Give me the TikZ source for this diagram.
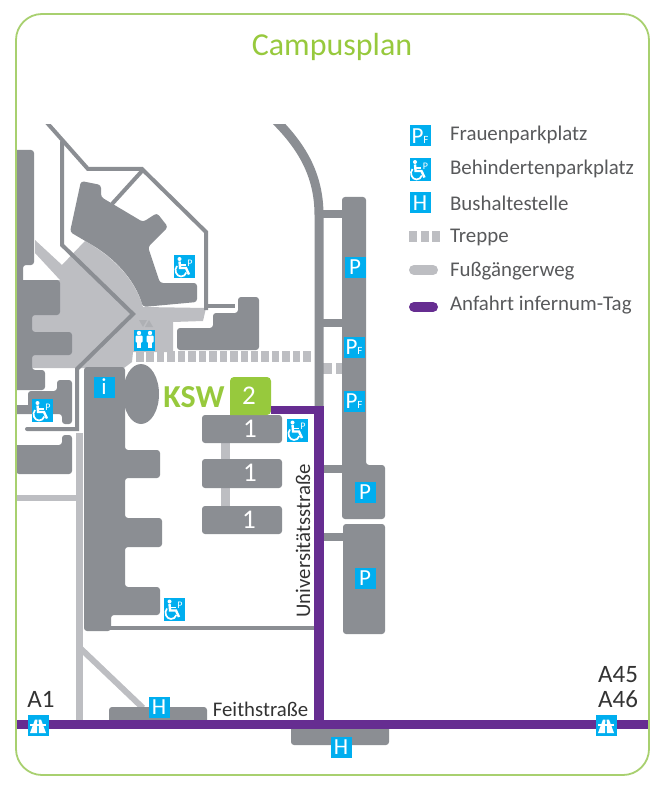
\documentclass[tikz,border=0pt]{standalone}
\usepackage{fontspec}
\setmainfont{Carlito}
\usetikzlibrary{positioning}
\definecolor{frameg}{HTML}{A8D06F}
\definecolor{kswg}{HTML}{97C93D}
\definecolor{bld}{HTML}{8B8E93}
\definecolor{walk}{HTML}{BDBEC2}
\definecolor{sign}{HTML}{00AEEF}
\definecolor{route}{HTML}{662D91}
\definecolor{lbl}{HTML}{58595B}
\newcommand{\fsz}[1]{\fontsize{#1}{#1}\selectfont}
\newcommand{\pf}{P\raisebox{0pt}{\fsz{11}F}}
\newcommand{\wch}{\hspace{11pt}\raisebox{6.5pt}{P}}
\tikzset{
  bldg/.style    = { fill=bld, rounded corners=3pt },
  road/.style    = { draw=bld, line width=#1 },
  path/.style    = { draw=walk, line width=#1 },
  drive/.style   = { draw=route, line width=#1 },
  stairs/.style  = { fill=walk },
  signb/.style   = { fill=sign, text=white, inner sep=0pt, minimum width=21pt,
    minimum height=21pt, font=\fsz{23} },
  wheel/.style   = { signb, minimum height=23pt, font=\fsz{10} },
  legend/.style  = { anchor=west, text=lbl, font=\fsz{20.9} },
  street/.style  = { text=black!80, font=\fsz{20.8} },
  num/.style     = { text=white, font=\fsz{27} },
  exit/.style    = { text=black!80, font=\fsz{25} },
  lane/.pic      = {
    \fill[white] (-8,7.5) -- (-3,-6) -- (-0.7,-6) -- (-1,7.5) -- cycle;
    \fill[white] (8,7.5) -- (3,-6) -- (0.7,-6) -- (1,7.5) -- cycle;
    \fill[white] (-8,-2) rectangle (8,0.5);
  },
  wcman/.pic     = {
    \fill[white] (0,-7) circle (2.2);
    \fill[white, rounded corners=1pt] (-3.5,-4.5) rectangle (3.5,2.5);
    \fill[white] (-2.3,2) rectangle (2.3,8);
  },
  chair/.pic     = {
    \fill[white] (-4,-8) circle (2);
    \draw[white, line width=2.4pt] (-4,-5.5) -- (-3.4,1) -- (2.5,1) -- (5.5,7.5);
    \draw[white, line width=1.6pt] (-3.6,-2) -- (2,-2);
    \draw[white, line width=1.7pt] (-6.5,-1) .. controls (-10,3) and (-7,9.5) .. (-2.5,9.5)
      .. controls (0,9.5) and (2,8) .. (2.8,5.5);
  }
}
\begin{document}
\begin{tikzpicture}[x=1pt,y=-1pt]
  \useasboundingbox (0,0) rectangle (658,786);

  % walkways
  \fill[walk] (35,240) -- (62,265) -- (85,241) .. controls (115,258) and (135,280) .. (143,307)
    -- (206,308) -- (203,321) -- (173,322) -- (173,352) -- (133,352) -- (132,362) -- (124,368)
    -- (32,368) -- (32,280) -- (60,280) -- (35,253) -- cycle;
  \path[path=7] (79,433) -- (79,721);
  \path[path=6] (16,498) -- (79,498);
  \path[path=6] (79,647) -- (143,708);
  \path[path=9] (225,443) -- (225,459);
  \path[path=9] (225,488) -- (225,506);

  % stairs
  \foreach \i in {0,...,16}
    \fill[stairs] (136+10.45*\i,351) rectangle +(7.5,11);
  \fill[stairs] (323,363) rectangle (332,374);
  \fill[stairs] (336,363) rectangle (342,374);

  % roads
  \begin{scope}
    \clip (0,125) rectangle (658,786);
    \path[road=4] (41,116) -- (88,169) -- (142,169) -- (206,232) -- (206,310);
    \path[road=9] (270,115) .. controls (302,145) and (319,175) .. (319,215) -- (319,410);
  \end{scope}
  \path[road=4] (206,306) -- (235,306);
  \path[road=4] (142,171) -- (112,204);
  \path[road=4,line cap=round] (62,142) -- (62,245) -- (133,314) -- (77,369) -- (77,429) -- (27,429);
  \path[road=8] (319,214) -- (343,214);
  \path[road=8] (319,323) -- (343,323);
  \path[road=8] (319,469) -- (343,469);
  \path[road=8] (319,537) -- (343,537);
  \path[road=4.5] (105,628) -- (316,628);

  % buildings
  \fill[bldg] (81,181) -- (101,185) -- (101,197) -- (143,222) -- (157,213) -- (168,227) -- (148,247)
    -- (160,283) -- (197,283) -- (197,302) -- (143,307) .. controls (135,280) and (115,258) .. (87,242) -- (70,232) -- cycle;
  \fill[bldg] (177,328) -- (213,328) -- (213,313) -- (238,313) -- (238,297) -- (259,297) -- (259,350) -- (177,350) -- cycle;
  \fill[bldg,sharp corners] (16,150) -- (31,150) [rounded corners=3pt] -- (34,150) -- (34,265) -- (23,265) [sharp corners] -- (23,280)
    [rounded corners=3pt] -- (60,280) -- (60,315) -- (32,315) -- (32,332) -- (72,332) -- (72,355) -- (32,355) -- (32,370)
    -- (45,370) -- (45,390) [sharp corners] -- (16,390) -- cycle;
  \fill[bldg] (16,414) [sharp corners] -- (16,405) -- (28,405) [rounded corners=3pt] -- (28,391) -- (57,391) -- (57,380) -- (72,380)
    -- (72,424) -- (62,424) -- (62,414) [sharp corners] -- cycle;
  \fill[bldg] (16,445) -- (62,445) -- (62,435) -- (72,435) -- (72,474) -- (16,474) [sharp corners] -- cycle;
  \fill[bldg] (84,367) -- (125,367) -- (125,450) -- (160,450) -- (160,478) -- (125,478) -- (125,518) -- (162,518) -- (162,547) -- (125,547)
    -- (125,587) -- (160,587) -- (160,615) -- (111,615) -- (111,631) -- (84,631) -- cycle;
  \fill[bld] (141,394) ellipse (18 and 30);
  \fill[bldg] (202,415) rectangle (282,443);
  \fill[bldg] (202,459) rectangle (282,488);
  \fill[bldg] (202,506) rectangle (282,534);
  \fill[bldg] (342,197) -- (366,197) -- (366,465) -- (385,465) -- (385,519) -- (342,519) -- cycle;
  \fill[bldg] (343,524) rectangle (385,634);
  \fill[bldg] (109,707) rectangle (207,726);
  \fill[bldg] (291,722) rectangle (389,745);
  \fill[kswg,rounded corners=4pt] (230,415) -- (230,377) -- (271,377) -- (271,415) [sharp corners] -- cycle;

  % route
  \path[drive=9.5] (319,406) -- (319,725);
  \path[drive=8] (271,410) -- (319,410);
  \path[drive=9.5] (17,724.5) -- (648,724.5);

  \draw[frameg, line width=1.8pt, rounded corners=26pt] (16,14) rectangle (649,775);

  \node[font=\fsz{32}, text=kswg] (title) at (332,47) {Campusplan};
  \node[font=\fsz{32}\bfseries, text=kswg] (ksw) at (194,397) {KSW};
  \node[num] (n2) at (249,396) {2};
  \node[num] (n1a) at (250,429) {1};
  \node[num] (n1b) at (250,473) {1};
  \node[num] (n1c) at (249,520) {1};

  % signs on the plan
  \node[signb] (pa) at (355,267) {P};
  \node[signb] (pfa) at (354,347) {\pf};
  \node[signb] (pfb) at (354,401) {\pf};
  \node[signb] (pb) at (365,492) {P};
  \node[signb] (pc) at (365,578) {P};
  \node[signb] (info) at (104,387) {i};
  \node[signb] (ha) at (159,707) {H};
  \node[signb] (hb) at (341,747) {H};
  \node[wheel] (wa) at (184.5,266.5) {\wch};
  \pic at (183.5,267) {chair};
  \node[wheel] (wb) at (42.5,410.5) {\wch};
  \pic at (41.5,411) {chair};
  \node[wheel] (wc) at (297.5,430) {\wch};
  \pic at (296.5,430.5) {chair};
  \node[wheel] (wd) at (174.5,609) {\wch};
  \pic at (173.5,609.5) {chair};
  \node[signb] (wcbox) at (144.5,340) {};
  \pic at (139,340) {wcman};
  \pic at (150,340) {wcman};
  \fill[walk!70!bld] (139,320) -- (147,320) -- (143,327) -- cycle;
  \fill[walk!70!bld] (145,327) -- (153,327) -- (149,320) -- cycle;
  \node[signb] (ma) at (38,725.5) {};
  \pic at (38,725.5) {lane};
  \node[signb] (mb) at (606,725.5) {};
  \pic at (606,725.5) {lane};

  % street names
  \node[street] (feith) at (260.5,709) {Feithstraße};
  \node[street, rotate=90] (univ) at (303,541) {Universitätsstraße};
  \node[exit] (aone) at (41,699) {A1};
  \node[exit] (afive) at (618,675) {A45};
  \node[exit] (asix) at (618,699) {A46};

  % legend
  \node[signb] (lpf) at (420,136) {\pf};
  \node[wheel] (lw) at (420,169.5) {\wch};
  \pic at (419,170) {chair};
  \node[signb] (lh) at (420,203) {H};
  \foreach \i in {0,1,2}
    \fill[stairs] (409+11.5*\i,231) rectangle +(8,11);
  \path[path=10,line cap=round] (414,270) -- (433,270);
  \path[drive=10,line cap=round] (414,307) -- (433,307);
  \node[legend] (tpf) at (446.5,135) {Frauenparkplatz};
  \node[legend] (tw) at (446.5,169) {Behindertenparkplatz};
  \node[legend] (th) at (446.5,203) {Bushaltestelle};
  \node[legend] (ts) at (446.5,237) {Treppe};
  \node[legend] (tf) at (446.5,271) {Fußgängerweg};
  \node[legend] (ta) at (446.5,305) {Anfahrt infernum-Tag};
\end{tikzpicture}
\end{document}
